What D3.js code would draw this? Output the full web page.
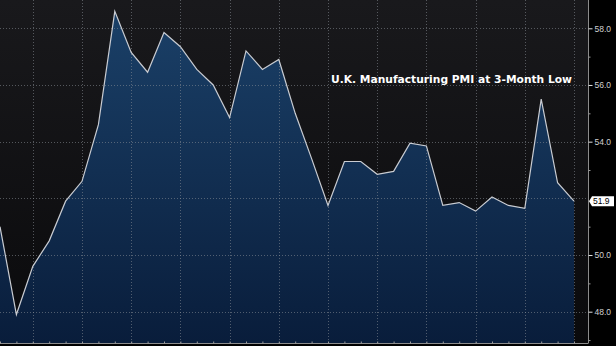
<!DOCTYPE html>
<html>
<head>
<meta charset="utf-8">
<script src="https://cdn.jsdelivr.net/npm/d3@7"></script>
<style>
  html, body { margin: 0; padding: 0; background: #000; }
  svg { display: block; }
  .ylab { font-family: "Liberation Sans", Arial, sans-serif; font-size: 8.5px; fill: #d0d0d0; }
</style>
</head>
<body>
<div id="chart"></div>
<script>
// monthly U.K. manufacturing PMI, Jan 2013 - Dec 2015
var months = [];
for (var yr = 2013; yr <= 2015; yr++) {
  for (var m = 1; m <= 12; m++) months.push(yr + "-" + (m < 10 ? "0" + m : m));
}
var pmi = [51.0, 47.9, 49.6, 50.5, 51.9, 52.6, 54.6, 58.6, 57.15, 56.45, 57.85, 57.35,
           56.55, 56.0, 54.85, 57.2, 56.55, 56.9, 55.0, 53.4, 51.75, 53.3, 53.3, 52.85,
           52.95, 53.95, 53.85, 51.75, 51.85, 51.55, 52.05, 51.75, 51.65, 55.5, 52.55, 51.9];
var yTicks = [48, 50, 52, 54, 56, 58];
var yMinor = [47, 49, 51, 53, 55, 57];
var title = "U.K. Manufacturing PMI at 3-Month Low";
var lastLabel = "51.9";

var W = 616, H = 346;
var plotR = 574, axisX = 588, axisY = 343;

var svg = d3.select("#chart").append("svg")
    .attr("width", W).attr("height", H);

var defs = svg.append("defs");
var bg = defs.append("linearGradient").attr("id", "bg")
    .attr("x1", 0).attr("y1", 0).attr("x2", 0).attr("y2", 1);
bg.append("stop").attr("offset", "0%").attr("stop-color", "#19191c");
bg.append("stop").attr("offset", "100%").attr("stop-color", "#0a0a0c");
var fg = defs.append("linearGradient").attr("id", "fill")
    .attr("gradientUnits", "userSpaceOnUse")
    .attr("x1", 0).attr("y1", 0).attr("x2", 0).attr("y2", axisY);
fg.append("stop").attr("offset", "0%").attr("stop-color", "#1b4169");
fg.append("stop").attr("offset", "100%").attr("stop-color", "#091d3b");

// scales
var x = d3.scaleLinear().domain([0, months.length - 1]).range([0, plotR]);
var y = d3.scaleLinear().domain([48, 58]).range([311.7, 28.3]);

// background
svg.append("rect").attr("x", 0).attr("y", 0).attr("width", axisX).attr("height", axisY)
    .attr("fill", "url(#bg)");

// area + line
var area = d3.area()
    .x(function(d, i){ return x(i); })
    .y0(axisY)
    .y1(function(d){ return y(d); });
var line = d3.line()
    .x(function(d, i){ return x(i); })
    .y(function(d){ return y(d); });

svg.append("path").attr("d", area(pmi)).attr("fill", "url(#fill)");

// grid (dotted)
var grid = svg.append("g");
grid.selectAll("line.h").data(yTicks).enter().append("line")
    .attr("x1", 0).attr("x2", axisX)
    .attr("y1", function(d){ return Math.round(y(d)) + 0.5; })
    .attr("y2", function(d){ return Math.round(y(d)) + 0.5; })
    .attr("stroke", "#8a8f98").attr("stroke-opacity", 0.55)
    .attr("stroke-dasharray", "1,2");
var qIdx = d3.range(2, months.length, 3);
grid.selectAll("line.v").data(qIdx).enter().append("line")
    .attr("x1", function(d){ return Math.round(x(d)) + 0.5; })
    .attr("x2", function(d){ return Math.round(x(d)) + 0.5; })
    .attr("y1", 0).attr("y2", axisY)
    .attr("stroke", "#8a8f98").attr("stroke-opacity", 0.55)
    .attr("stroke-dasharray", "1,2");

svg.append("path").attr("d", line(pmi))
    .attr("fill", "none").attr("stroke", "#c9ccd2").attr("stroke-width", 1.2);

// title
svg.append("text")
    .attr("x", 331).attr("y", 83)
    .attr("font-family", "DejaVu Sans, Verdana, sans-serif")
    .attr("font-weight", "bold").attr("font-size", 11)
    .attr("fill", "#ffffff")
    .attr("textLength", 241).attr("lengthAdjust", "spacingAndGlyphs")
    .text(title);

// right axis
var yAxis = d3.axisRight(y).tickValues(yTicks.filter(function(d){ return d !== 52; }))
    .tickSize(4).tickPadding(2).tickFormat(d3.format(".1f"));
var ya = svg.append("g").attr("transform", "translate(" + (axisX + 0.5) + ",0)").call(yAxis);
ya.select(".domain").attr("d", "M0,0V" + axisY).attr("stroke", "#8c8c8c");
ya.selectAll(".tick line").attr("stroke", "#e0e0e0");
ya.selectAll(".tick text").attr("class", "ylab").attr("font-size", null).attr("font-family", null).attr("fill", null);

var yMinorAxis = d3.axisRight(y).tickValues(yMinor).tickSize(2).tickFormat("");
var ym = svg.append("g").attr("transform", "translate(" + (axisX + 0.5) + ",0)").call(yMinorAxis);
ym.select(".domain").remove();
ym.selectAll(".tick line").attr("stroke", "#9a9a9a");

// bottom axis
var xAxis = d3.axisTop(x).tickValues(d3.range(months.length)).tickSize(2).tickFormat("");
var xa = svg.append("g").attr("transform", "translate(0," + (axisY + 0.5) + ")").call(xAxis);
xa.select(".domain").attr("d", "M0,0H" + (axisX + 0.5)).attr("stroke", "#8c8c8c");
xa.selectAll(".tick line").attr("stroke", "#9a9a9a");

// last value label
var ly = y(pmi[pmi.length - 1]);
var lab = svg.append("g").attr("transform", "translate(" + (axisX + 1) + "," + ly + ")");
lab.append("path").attr("d", "M0,0L3,-5H25V5H3Z").attr("fill", "#ffffff");
lab.append("text").attr("x", 4).attr("y", 3.2)
    .attr("font-family", "Liberation Sans, Arial, sans-serif").attr("font-size", 8.5)
    .attr("fill", "#000").text(lastLabel);
</script>
</body>
</html>
